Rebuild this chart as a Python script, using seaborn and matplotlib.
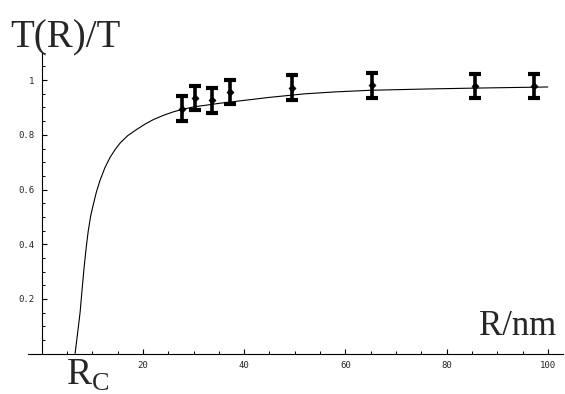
import numpy as np
import pandas as pd
import seaborn as sns
import matplotlib.pyplot as plt
from matplotlib.ticker import MultipleLocator

# Measured points (R in nm, normalised T)
r_data = [27.7, 30.3, 33.7, 37.2, 49.5, 65.2, 85.6, 97.3]
t_data = [0.895, 0.935, 0.926, 0.956, 0.972, 0.981, 0.979, 0.978]
t_err = [0.046, 0.045, 0.045, 0.045, 0.045, 0.045, 0.045, 0.045]

# Theory curve
r_curve = [6.6, 7.1, 7.6, 8.0, 8.4, 8.8, 9.2, 9.7, 10.2, 10.8, 11.5, 12.5, 13.5,
           14.5, 15.5, 17.0, 18.8, 20.5, 22.1, 24.0, 26.0, 28.0, 30.0, 35.0,
           40.0, 45.0, 52.0, 58.0, 65.0, 77.0, 86.0, 93.0, 100.0]
t_curve = [0.0, 0.075, 0.152, 0.238, 0.318, 0.388, 0.448, 0.505, 0.545, 0.590,
           0.632, 0.680, 0.717, 0.746, 0.770, 0.797, 0.820, 0.840, 0.856, 0.871,
           0.884, 0.894, 0.902, 0.915, 0.926, 0.937, 0.950, 0.957, 0.963, 0.968,
           0.971, 0.973, 0.975]

x_ticks = [20, 40, 60, 80, 100]
y_ticks = [0.2, 0.4, 0.6, 0.8, 1.0]
y_tick_labels = ['0.2', '0.4', '0.6', '0.8', '1']

sns.set_style('white')
plt.rcParams['mathtext.fontset'] = 'custom'
plt.rcParams['mathtext.rm'] = 'Liberation Serif'

W, H = 565, 394
fig = plt.figure(figsize=(W / 100, H / 100), dpi=100)
ax = fig.add_axes([28 / W, 1 - 353.6 / H, (563 - 28) / W, (353.6 - 51.7) / H])

curve = pd.DataFrame({'R': r_curve, 'T': t_curve})
sns.lineplot(data=curve, x='R', y='T', sort=False, estimator=None,
             color='black', linewidth=0.8, ax=ax)

ax.errorbar(r_data, t_data, yerr=t_err, fmt='none', ecolor='black',
            elinewidth=2.6, capsize=4.6, capthick=3.0, zorder=3)
pts = pd.DataFrame({'R': r_data, 'T': t_data})
sns.scatterplot(data=pts, x='R', y='T', marker='D', s=14, color='black',
                edgecolor='black', ax=ax, zorder=4)

ax.set_xlim(-2.7, 103.0)
ax.set_ylim(0, 1.104)
ax.set_xlabel('')
ax.set_ylabel('')

for s in ['top', 'right']:
    ax.spines[s].set_visible(False)
ax.spines['left'].set_position(('data', 0))
ax.spines['bottom'].set_position(('data', 0))
for s in ['left', 'bottom']:
    ax.spines[s].set_color('black')
    ax.spines[s].set_linewidth(0.8)

ax.set_xticks(x_ticks)
ax.set_xticklabels([str(v) for v in x_ticks])
ax.set_yticks(y_ticks)
ax.set_yticklabels(y_tick_labels)
ax.xaxis.set_minor_locator(MultipleLocator(5))
ax.yaxis.set_minor_locator(MultipleLocator(0.05))
ax.tick_params(which='major', direction='in', length=3.5, width=0.8,
               color='black', labelsize=6.5, pad=5)
ax.tick_params(which='minor', direction='in', length=2.2, width=0.7,
               color='black')
ax.tick_params(left=True, bottom=True, which='both')
for lab in ax.get_xticklabels() + ax.get_yticklabels():
    lab.set_family('DejaVu Sans Mono')

fig.text(10 / W, 1 - 47 / H, 'T(R)/T', family='Liberation Serif',
         fontsize=28, va='baseline', ha='left')
fig.text(479 / W, 1 - 335 / H, 'R/nm', family='Liberation Serif',
         fontsize=25, va='baseline', ha='left')
fig.text(66 / W, 1 - 385 / H, r'R$_{\mathregular{C}}$', family='Liberation Serif',
         fontsize=27, va='baseline', ha='left')

fig.savefig('out.png', dpi=100)
